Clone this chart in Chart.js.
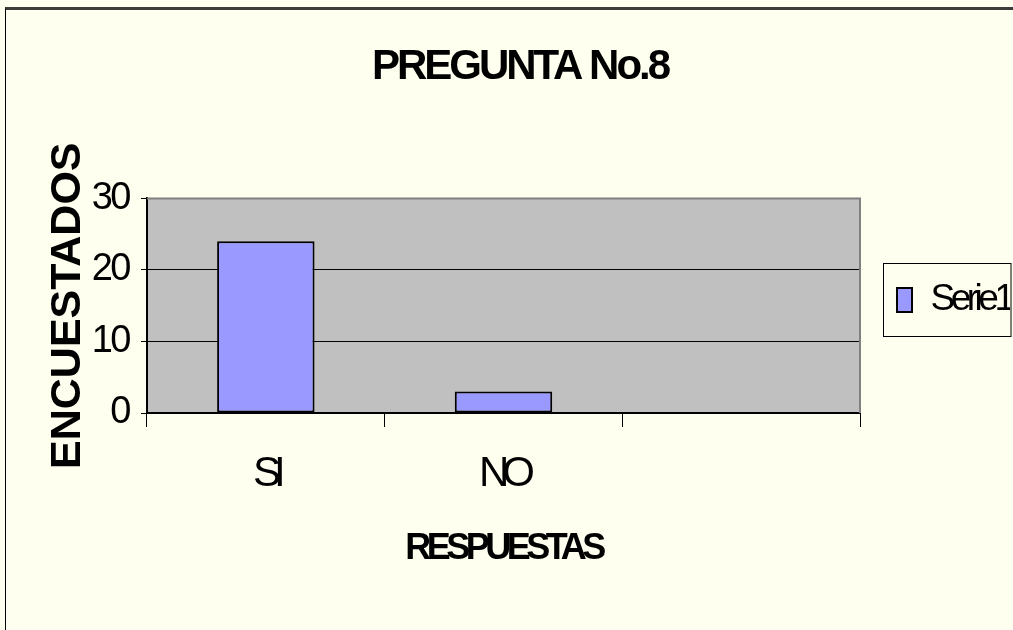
<!DOCTYPE html>
<html>
<head>
<meta charset="utf-8">
<script src="https://cdn.jsdelivr.net/npm/chart.js@4.4.0/dist/chart.umd.min.js"></script>
<style>
  html, body { margin: 0; padding: 0; background: #FFFFF0; overflow: hidden; }
  #marco { position: absolute; left: 5px; top: 7px; width: 1100px; height: 700px;
           border-top: 3px solid #3c3c3c; border-left: 1px solid #000; }
  #myChart { position: absolute; left: 0; top: 0; }
</style>
</head>
<body>
<div id="marco"></div>
<canvas id="myChart" width="1013" height="630"></canvas>
<script>
const titulo = 'PREGUNTA No.8';
const tituloX = 'RESPUESTAS';
const tituloY = 'ENCUESTADOS';
const respuestas = ['SI', 'NO', ''];
const encuestados = [24, 3, null];
const nombreSerie = 'Serie1';
const ejeY = { min: 0, max: 30, paso: 10 };

const fuente = "'Liberation Sans', Arial, sans-serif";

// el original tiene el texto muy apretado: espaciado de letras segun fuente
const espaciado = {
    'bold 42': -3,    // titulo
    'bold 43': 0,     // titulo eje Y
    '38': -2.5,       // ticks eje Y
    '42': -7,         // categorias
    'bold 36': -4.5,  // titulo eje X
    '37': -4.5        // leyenda
};

const lienzo = document.getElementById('myChart');
const ctx2d = lienzo.getContext('2d');
['fillText', 'strokeText', 'measureText'].forEach(nombre => {
    const original = ctx2d[nombre];
    ctx2d[nombre] = function (...args) {
        const m = /^(.*?)px/.exec(this.font || '');
        const clave = m ? m[1].replace('normal ', '').trim() : '';
        this.letterSpacing = (espaciado[clave] || 0) + 'px';
        return original.apply(this, args);
    };
});

// fondo gris del area de trazado, borde gris y marco de la leyenda
const fondoGrafico = {
    id: 'fondoGrafico',
    beforeLayout(chart) {
        const lg = chart.legend;
        if (lg && !lg._anchoFijo) {
            const fitOriginal = lg.fit.bind(lg);
            lg.fit = function () { fitOriginal(); this.width = 150; };
            lg._anchoFijo = true;
        }
    },
    beforeDraw(chart) {
        const { ctx, chartArea: a } = chart;
        ctx.save();
        ctx.fillStyle = '#C0C0C0';
        ctx.fillRect(a.left, a.top, a.right - a.left, a.bottom - a.top);
        ctx.restore();
    },
    beforeDatasetsDraw(chart) {
        const { ctx, chartArea: a } = chart;
        ctx.save();
        ctx.strokeStyle = '#808080';
        ctx.lineWidth = 2;
        ctx.beginPath();
        ctx.moveTo(a.left, a.top);
        ctx.lineTo(a.right, a.top);
        ctx.lineTo(a.right, a.bottom);
        ctx.stroke();
        ctx.restore();
    },
    afterDraw(chart) {
        const lg = chart.legend;
        if (!lg || !lg.legendHitBoxes || !lg.legendHitBoxes.length) return;
        const hb = lg.legendHitBoxes[0];
        const cy = hb.top + hb.height / 2;
        const ctx = chart.ctx;
        const x0 = hb.left - 13.5;
        ctx.save();
        ctx.strokeStyle = '#000';
        ctx.lineWidth = 1;
        ctx.strokeRect(x0, Math.round(cy) - 36.5, chart.width - 2 - x0, 73);
        ctx.restore();
    }
};

const data = {
    labels: respuestas,
    datasets: [{
        label: nombreSerie,
        data: encuestados,
        backgroundColor: '#9999FF',
        borderColor: '#000000',
        borderWidth: 2,
        borderSkipped: false,
        barPercentage: 0.41,
        categoryPercentage: 1.0
    }]
};

const config = {
    type: 'bar',
    data: data,
    plugins: [fondoGrafico],
    options: {
        responsive: false,
        animation: false,
        devicePixelRatio: 1,
        layout: { padding: { left: 30, right: 3, top: 10, bottom: 40 } },
        plugins: {
            title: {
                display: true,
                text: titulo,
                color: '#000',
                font: { family: fuente, size: 42, weight: 'bold' },
                padding: { top: 32, bottom: 106 }
            },
            legend: {
                display: true,
                position: 'right',
                labels: {
                    color: '#000',
                    font: { family: fuente, size: 37 },
                    boxWidth: 15,
                    boxHeight: 24,
                    padding: 37
                }
            },
            tooltip: { enabled: false }
        },
        scales: {
            x: {
                grid: {
                    offset: true,
                    drawOnChartArea: false,
                    drawTicks: true,
                    tickLength: 14,
                    color: '#000'
                },
                border: { display: true, color: '#000', width: 2 },
                ticks: {
                    color: '#000',
                    font: { family: fuente, size: 42 },
                    padding: 22
                },
                title: {
                    display: true,
                    text: tituloX,
                    color: '#000',
                    font: { family: fuente, size: 36, weight: 'bold' },
                    padding: { top: 0, bottom: 19 }
                },
                afterFit(scale) { scale.height = 177; }
            },
            y: {
                min: ejeY.min,
                max: ejeY.max,
                ticks: {
                    stepSize: ejeY.paso,
                    color: '#000',
                    font: { family: fuente, size: 38 },
                    padding: 12
                },
                grid: {
                    color: (c) => (c.tick && c.tick.value === ejeY.max) ? '#808080' : '#000',
                    tickColor: '#000',
                    tickLength: 6,
                    lineWidth: 1
                },
                border: { display: true, color: '#000', width: 2 },
                title: {
                    display: true,
                    text: tituloY,
                    color: '#000',
                    font: { family: fuente, size: 43, weight: 'bold' },
                    padding: { top: 12, bottom: 0 }
                },
                afterFit(scale) { scale.width = 117; }
            }
        }
    }
};

let myChart = new Chart(lienzo, config);
</script>
</body>
</html>
